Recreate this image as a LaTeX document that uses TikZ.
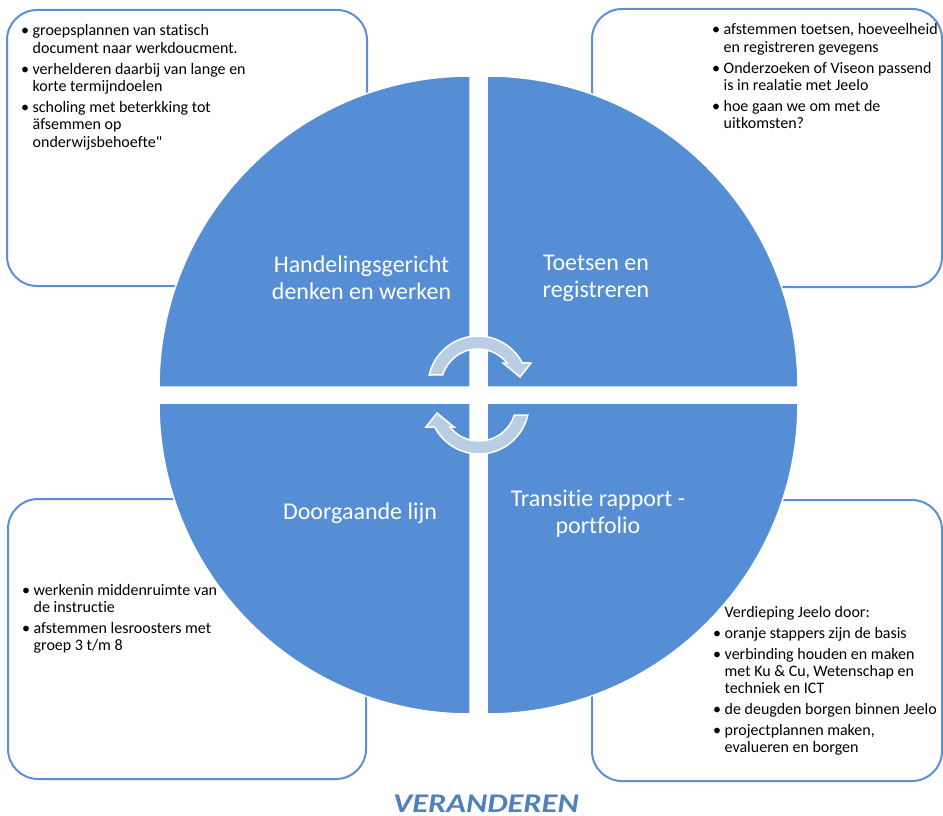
\documentclass[tikz,border=0pt]{standalone}
\usepackage{fontspec}
\usepackage{graphicx}
\setmainfont{Carlito}[Ligatures={TeXOff,CommonOff}]
\definecolor{qblue}{RGB}{85,142,213}
\definecolor{boxblue}{RGB}{91,144,214}
\definecolor{arrowfill}{RGB}{185,205,229}
\definecolor{titleblue}{RGB}{79,129,189}
\newcommand{\blist}[1]{{\fontsize{16}{17.3}\selectfont\begin{tabular}[t]{@{}l@{\hspace{3.5pt}}l@{}}#1\end{tabular}}}
\tikzset{
  infobox/.style={draw=boxblue, line width=2pt, rounded corners=30pt, fill=white, inner sep=0pt},
  quad/.style={fill=qblue, draw=white, line width=1.5pt},
  qlabel/.style={text=white, font=\fontsize{24}{27}\selectfont, align=center, inner sep=0pt},
  boxtext/.style={anchor=base west, inner sep=0pt, text=black},
  cyclearrow/.style={fill=arrowfill, draw=white, line width=1.5pt, line join=miter},
  titletext/.style={font=\fontsize{27}{30}\selectfont\bfseries\itshape, text=titleblue, inner sep=0pt, anchor=base}
}
\begin{document}
\begin{tikzpicture}[x=1pt, y=1pt]
\useasboundingbox (0,0) rectangle (943,-816);
% outer boxes
\node[infobox, minimum width=360pt, minimum height=276pt] (boxTL) at (187,-148) {};
\node[infobox, minimum width=350pt, minimum height=278pt] (boxTR) at (767,-148) {};
\node[infobox, minimum width=358pt, minimum height=280pt] (boxBL) at (187,-639) {};
\node[infobox, minimum width=350pt, minimum height=281pt] (boxBR) at (767,-640.5) {};
% box texts
\node[boxtext] (txtTL) at (21,-36) {\blist{%
\textbullet & groepsplannen van statisch\\
 & document naar werkdoucment.\\[3.7pt]
\textbullet & verhelderen daarbij van lange en\\
 & korte termijndoelen\\[3.7pt]
\textbullet & scholing met beterkking tot\\
 & äfsemmen op\\
 & onderwijsbehoefte"}};
\node[boxtext] (txtTR) at (712,-35) {\blist{%
\textbullet & afstemmen toetsen, hoeveelheid\\
 & en registreren gevegens\\[3.7pt]
\textbullet & Onderzoeken of Viseon passend\\
 & is in realatie met Jeelo\\[3.7pt]
\textbullet & hoe gaan we om met de\\
 & uitkomsten?}};
\node[boxtext] (txtBL) at (22,-595) {\blist{%
\textbullet & werkenin middenruimte van\\
 & de instructie\\[3.7pt]
\textbullet & afstemmen lesroosters met\\
 & groep 3 t/m 8}};
\node[boxtext] (txtBR) at (713,-617) {\blist{%
 & Verdieping Jeelo door:\\[3.7pt]
\textbullet & oranje stappers zijn de basis\\[3.7pt]
\textbullet & verbinding houden en maken\\
 & met Ku \& Cu, Wetenschap en\\
 & techniek en ICT\\[3.7pt]
\textbullet & de deugden borgen binnen Jeelo\\[3.7pt]
\textbullet & projectplannen maken,\\
 & evalueren en borgen}};
% circle quadrants
\filldraw[quad] (470,-387) -- (159,-387) arc[start angle=180, end angle=90, radius=311] -- cycle;
\filldraw[quad] (487,-387) -- (487,-76) arc[start angle=90, end angle=0, radius=311] -- cycle;
\filldraw[quad] (470,-403) -- (159,-403) arc[start angle=180, end angle=270, radius=311] -- cycle;
\filldraw[quad] (487,-403) -- (487,-714) arc[start angle=270, end angle=360, radius=311] -- cycle;
% quadrant labels
\node[qlabel] (lblTL) at (361.5,-278) {Handelingsgericht\\denken en werken};
\node[qlabel] (lblTR) at (596,-278) {Toetsen en\\registreren};
\node[qlabel] (lblBL) at (360,-513) {Doorgaande lijn};
\node[qlabel] (lblBR) at (598,-513.5) {Transitie rapport -\\portfolio};
% cycle arrows
\draw[cyclearrow] (429.2,-375) arc[start angle=167.3, end angle=27.4, radius=50]
  -- (531,-363) -- (520,-377) -- (503,-363) -- (507,-363)
  arc[start angle=38.4, end angle=162.7, radius=37] -- cycle;
\begin{scope}[rotate around={180:(478.5,-395)}]
\draw[cyclearrow] (429.2,-375) arc[start angle=167.3, end angle=27.4, radius=50]
  -- (531,-363) -- (520,-377) -- (503,-363) -- (507,-363)
  arc[start angle=38.4, end angle=162.7, radius=37] -- cycle;
\end{scope}
% title
\node[titletext] (title) at (486,-812.5) {\scalebox{1.2}[1]{VERANDEREN}};
\end{tikzpicture}
\end{document}
